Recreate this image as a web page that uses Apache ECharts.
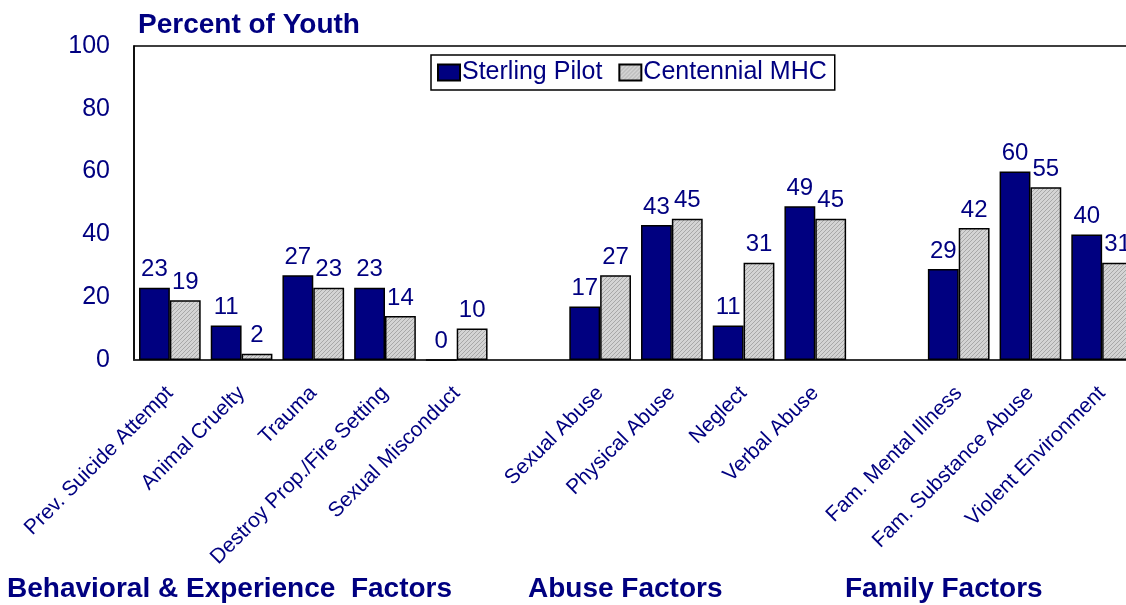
<!DOCTYPE html>
<html><head><meta charset="utf-8">
<script src="https://cdn.jsdelivr.net/npm/echarts@6/dist/echarts.min.js"></script>
<style>html,body{margin:0;padding:0;background:#fff}#c{width:1126px;height:605px}</style>
</head><body><div id="c"></div>
<script>
const categories = ['Prev. Suicide Attempt','Animal Cruelty','Trauma','Destroy Prop./Fire Setting','Sexual Misconduct','',
  'Sexual Abuse','Physical Abuse','Neglect','Verbal Abuse','',
  'Fam. Mental Illness','Fam. Substance Abuse','Violent Environment'];
const sterlingPilot = [23, 11, 27, 23, 0, '-', 17, 43, 11, 49, '-', 29, 60, 40];
const centennialMHC = [19, 2, 23, 14, 10, '-', 27, 45, 31, 45, '-', 42, 55, 31];
const yTicks = [0, 20, 40, 60, 80, 100];
const groupLabels = ['Behavioral & Experience  Factors', 'Abuse Factors', 'Family Factors'];

const NAVY = '#000080';
const FONT = 'Liberation Sans, Arial, sans-serif';

// hatched light-gray pattern
const pc = document.createElement('canvas');
pc.width = 4; pc.height = 4;
const px = pc.getContext('2d');
px.fillStyle = '#d4d4d4'; px.fillRect(0,0,4,4);
px.fillStyle = '#a8a8a8';
for (let i = 0; i < 4; i++) px.fillRect(i, 3 - i, 1, 1);

const chart = echarts.init(document.getElementById('c'), null, {renderer: 'canvas'});
const labelStyle = {show: true, position: 'top', distance: 6, color: NAVY, fontSize: 24, fontFamily: FONT};
chart.setOption({
  animation: false,
  textStyle: {fontFamily: FONT},
  title: {text: 'Percent of Youth', left: 133, top: 6,
    textStyle: {color: NAVY, fontSize: 28, fontWeight: 'bold', fontFamily: FONT}},
  legend: {
    left: 431, top: 55, padding: [5, 8, 5, 6], itemGap: 16,
    borderColor: '#000', borderWidth: 1.5,
    icon: 'rect', itemWidth: 22, itemHeight: 16,
    textStyle: {color: NAVY, fontSize: 25, fontFamily: FONT, padding: [0,0,0,-3]},
    data: ['Sterling Pilot', 'Centennial MHC']
  },
  grid: {left: 134, top: 46, right: -12, height: 314, outerBoundsMode: 'none', show: true, borderColor: '#000', borderWidth: 1.5, containLabel: false},
  xAxis: {
    type: 'category', data: categories,
    axisLine: {lineStyle: {color: '#333', width: 1.5}},
    axisTick: {show: false},
    axisLabel: {rotate: 45, interval: 0, margin: 30, color: NAVY, fontSize: 21, fontFamily: FONT}
  },
  yAxis: {
    type: 'value', min: 0, max: 100, interval: 20,
    axisLine: {show: true, lineStyle: {color: '#000', width: 1.5}},
    axisTick: {show: false},
    splitLine: {show: false},
    axisLabel: {margin: 24, color: NAVY, fontSize: 25, fontFamily: FONT,
      formatter: v => yTicks.includes(v) ? String(v) : ''}
  },
  series: [
    {name: 'Sterling Pilot', type: 'bar', data: sterlingPilot, barGap: '0%', barCategoryGap: '14%',
      itemStyle: {color: NAVY, borderColor: '#000', borderWidth: 1.5}, label: labelStyle},
    {name: 'Centennial MHC', type: 'bar', data: centennialMHC,
      itemStyle: {color: {image: pc, repeat: 'repeat'}, borderColor: '#000', borderWidth: 1.5}, label: labelStyle}
  ],
  graphic: [
    {type: 'text', left: 7, top: 575, style: {text: groupLabels[0], fill: NAVY, font: 'bold 28px ' + FONT}},
    {type: 'text', left: 528, top: 575, style: {text: groupLabels[1], fill: NAVY, font: 'bold 28px ' + FONT}},
    {type: 'text', left: 845, top: 575, style: {text: groupLabels[2], fill: NAVY, font: 'bold 28px ' + FONT}}
  ]
});
</script></body></html>
